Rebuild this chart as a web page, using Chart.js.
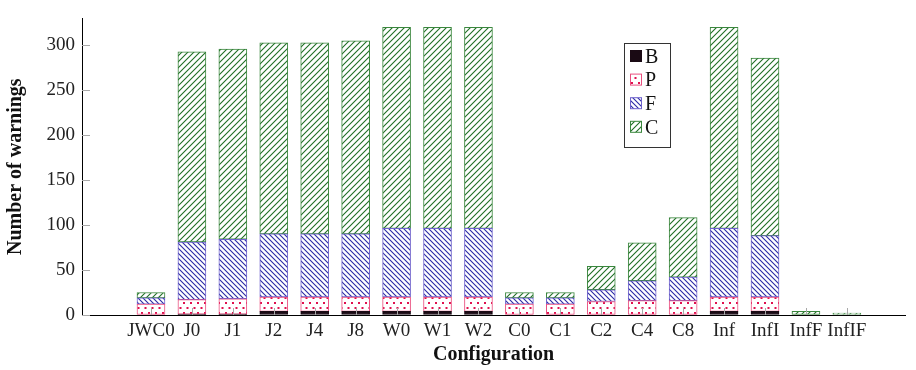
<!DOCTYPE html>
<html>
<head>
<meta charset="utf-8">
<script src="https://cdn.jsdelivr.net/npm/chart.js@4/dist/chart.umd.min.js"></script>
<style>
  body { margin: 0; background: #fff; }
  #chart { display: block; }
</style>
</head>
<body>
<canvas id="chart" width="916" height="370"></canvas>
<script>
// Warnings per configuration, stacked B / P / F / C
const configs = ['JWC0', 'J0', 'J1', 'J2', 'J4', 'J8', 'W0', 'W1', 'W2',
                 'C0', 'C1', 'C2', 'C4', 'C8', 'Inf', 'InfI', 'InfF', 'InfIF'];
const countB = [0, 1, 1, 4, 4, 4, 4, 4, 4, 0, 0, 0, 0, 0, 4, 4, 0, 0];
const countP = [12, 16, 17, 16, 16, 16, 16, 16, 16, 12, 12, 15, 16, 16, 16, 16, 0, 0];
const countF = [7, 64, 66, 70, 70, 70, 76, 76, 76, 7, 7, 13, 22, 26, 76, 68, 0, 0];
const countC = [6, 211, 211, 212, 212, 214, 223, 223, 223, 6, 6, 26, 42, 66, 223, 197, 4, 2];
const yTicks = [0, 50, 100, 150, 200, 250, 300];

const FONT = '"Liberation Serif", "Times New Roman", serif';

// small canvas tiles used as fill patterns
function makePattern(size, draw) {
    const c = document.createElement('canvas');
    c.width = size.w; c.height = size.h;
    const g = c.getContext('2d');
    g.fillStyle = '#fff';
    g.fillRect(0, 0, size.w, size.h);
    draw(g, size.w, size.h);
    return g.createPattern(c, 'repeat');
}

const ctx = document.getElementById('chart').getContext('2d');

const dotsPattern = makePattern({w: 7, h: 10}, (g, w, h) => {
    g.fillStyle = '#e0104e';
    g.fillRect(1, 2, 2, 2);
    g.fillRect(4.5, 7, 2, 2);
});
const nwPattern = makePattern({w: 5, h: 5}, (g, w, h) => {
    g.strokeStyle = '#2b2ba6';
    g.lineWidth = 1.1;
    g.beginPath();
    g.moveTo(-1, -1); g.lineTo(w + 1, h + 1);
    g.moveTo(-1, h - 1); g.lineTo(1, h + 1);
    g.moveTo(w - 1, -1); g.lineTo(w + 1, 1);
    g.stroke();
});
const nePattern = makePattern({w: 6, h: 6}, (g, w, h) => {
    g.strokeStyle = '#1f6e24';
    g.lineWidth = 1.1;
    g.beginPath();
    g.moveTo(-1, h + 1); g.lineTo(w + 1, -1);
    g.moveTo(-1, 1); g.lineTo(1, -1);
    g.moveTo(w - 1, h + 1); g.lineTo(w + 1, h - 1);
    g.stroke();
});

const series = [
    { label: 'B', values: countB, fill: '#1a0a14', border: '#1a0a14' },
    { label: 'P', values: countP, fill: dotsPattern, border: '#ea4f7f' },
    { label: 'F', values: countF, fill: nwPattern, border: '#6f62cc' },
    { label: 'C', values: countC, fill: nePattern, border: '#3a873d' }
];

// pgfplots-style inner tick marks and legend box
const decorations = {
    id: 'decorations',
    afterDatasetsDraw(chart) {
        const { ctx, scales: { x, y }, chartArea } = chart;
        ctx.save();
        ctx.strokeStyle = '#a8a8a8';
        ctx.lineWidth = 1;
        ctx.beginPath();
        configs.forEach((_, i) => {
            const px = Math.round(x.getPixelForValue(i)) + 0.5;
            ctx.moveTo(px, chartArea.bottom);
            ctx.lineTo(px, chartArea.bottom - 7);
        });
        yTicks.forEach(v => {
            const py = Math.round(y.getPixelForValue(v)) + 0.5;
            ctx.moveTo(chartArea.left, py);
            ctx.lineTo(chartArea.left + 8, py);
        });
        ctx.stroke();
        ctx.restore();
    },
    afterDraw(chart) {
        const { ctx } = chart;
        const box = { x: 624.5, y: 43.5, w: 46, h: 104 };
        ctx.save();
        ctx.fillStyle = '#fff';
        ctx.fillRect(box.x, box.y, box.w, box.h);
        ctx.strokeStyle = '#333';
        ctx.lineWidth = 1;
        ctx.strokeRect(box.x, box.y, box.w, box.h);
        ctx.font = '20px ' + FONT;
        ctx.textBaseline = 'middle';
        series.forEach((s, i) => {
            const cy = 56.5 + i * 23.6;
            ctx.fillStyle = s.fill;
            ctx.fillRect(630.5, cy - 6, 11, 11);
            ctx.strokeStyle = s.border;
            ctx.strokeRect(630.5, cy - 6, 11, 11);
            ctx.fillStyle = '#111';
            ctx.fillText(s.label, 645, cy + 1);
        });
        ctx.restore();
    }
};

new Chart(ctx, {
    type: 'bar',
    data: {
        datasets: series.map(s => ({
            label: s.label,
            data: s.values.map((v, i) => ({ x: i, y: v > 0 ? v : null })),
            backgroundColor: s.fill,
            borderColor: s.border,
            borderWidth: 1,
            borderSkipped: false,
            barThickness: 28
        }))
    },
    options: {
        responsive: false,
        animation: false,
        layout: { padding: { top: 3, right: 11, left: 0, bottom: 0 } },
        plugins: {
            legend: { display: false },
            tooltip: { enabled: false }
        },
        scales: {
            x: {
                type: 'linear',
                stacked: true,
                offset: false,
                min: -1.685,
                max: 18.42,
                afterBuildTicks: (scale) => {
                    scale.ticks = configs.map((_, i) => ({ value: i }));
                },
                afterFit: (scale) => { scale.height = 55; },
                grid: { display: true, drawOnChartArea: false, drawTicks: false },
                border: { display: true, color: '#000', width: 1 },
                ticks: {
                    autoSkip: false,
                    maxRotation: 0,
                    padding: 5,
                    color: '#222',
                    font: { family: FONT, size: 19 },
                    callback: (v) => configs[v] ?? ''
                },
                title: {
                    display: true,
                    text: 'Configuration',
                    color: '#111',
                    font: { family: FONT, size: 20, weight: 'bold' },
                    padding: { top: 0, bottom: 3 }
                }
            },
            y: {
                stacked: true,
                min: 0,
                max: 329,
                afterBuildTicks: (scale) => {
                    scale.ticks = yTicks.map(v => ({ value: v }));
                },
                afterFit: (scale) => { scale.width = 82; },
                grid: { display: true, drawOnChartArea: false, drawTicks: false },
                border: { display: true, color: '#000', width: 1 },
                ticks: {
                    padding: 7,
                    color: '#222',
                    font: { family: FONT, size: 19 }
                },
                title: {
                    display: true,
                    text: 'Number of warnings',
                    color: '#111',
                    font: { family: FONT, size: 20, weight: 'bold' },
                    padding: { top: 4, bottom: 0 }
                }
            }
        }
    },
    plugins: [decorations]
});
</script>
</body>
</html>
